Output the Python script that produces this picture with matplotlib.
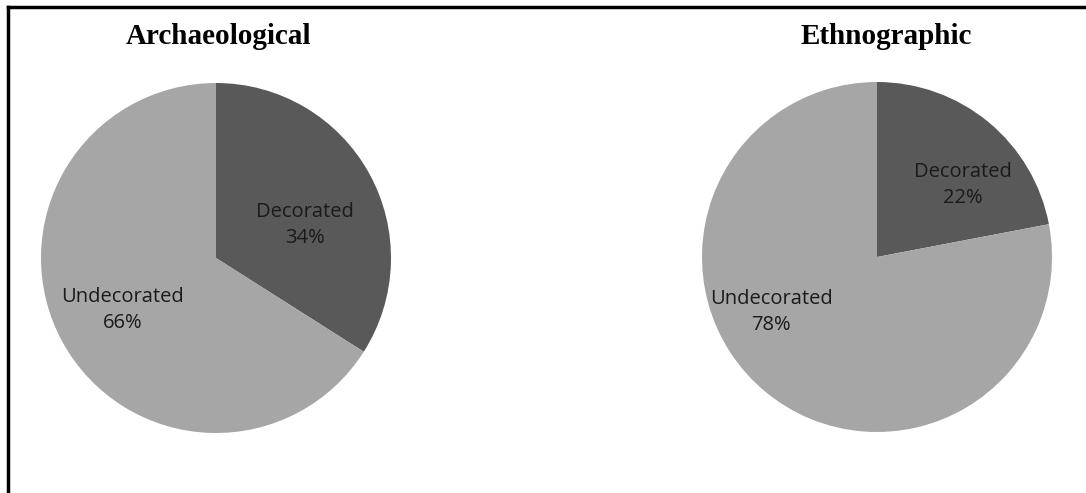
import matplotlib
matplotlib.use("Agg")
import numpy as np
import matplotlib.pyplot as plt
from matplotlib.lines import Line2D

# ============================================================
# DATA
# ============================================================

CATEGORIES = ["Decorated", "Undecorated"]
ARCH_VALUES = [34, 66]
ETHNO_VALUES = [22, 78]
TITLES = ["Archaeological", "Ethnographic"]

# ============================================================
# STYLE / LAYOUT
# ============================================================

COLORS = ["#595959", "#a6a6a6"]
W, H = 1086, 493
PIE_CENTERS = [(216, 258), (877, 257)]
PIE_RADIUS = 175
TITLE_X = [218, 886]
TITLE_Y = 37
# label positions (angle in deg, distance in radii) per pie
LABEL_POS = [
    [(20.4, 0.54), (209.0, 0.61)],
    [(40.2, 0.64), (207.3, 0.68)],
]


def draw_pie(fig, center, values, label_pos):
    cx, cy = center
    ax = fig.add_axes([
        (cx - PIE_RADIUS) / W,
        (H - cy - PIE_RADIUS) / H,
        2 * PIE_RADIUS / W,
        2 * PIE_RADIUS / H,
    ])
    ax.pie(values, colors=COLORS, startangle=90, counterclock=False,
           radius=1.0, wedgeprops=dict(linewidth=0))
    ax.set_xlim(-1, 1)
    ax.set_ylim(-1, 1)
    ax.set_aspect("equal")
    ax.axis("off")

    for cat, val, (ang, dist) in zip(CATEGORIES, values, label_pos):
        a = np.deg2rad(ang)
        ax.text(dist * np.cos(a), dist * np.sin(a), f"{cat}\n{val}%",
                ha="center", va="center", fontsize=14.5, family="Open Sans",
                color="#1a1a1a", linespacing=1.4)
    return ax


def main():
    fig = plt.figure(figsize=(W / 100, H / 100), dpi=100)

    for center, values, lp in zip(PIE_CENTERS, [ARCH_VALUES, ETHNO_VALUES], LABEL_POS):
        draw_pie(fig, center, values, lp)

    for title, tx in zip(TITLES, TITLE_X):
        fig.text(tx / W, 1 - TITLE_Y / H, title, ha="center", va="center",
                 fontsize=21, fontweight="bold", family="Liberation Serif")

    # frame lines (top and left only)
    fig.add_artist(Line2D([8 / W, 1], [1 - 7 / H, 1 - 7 / H],
                          transform=fig.transFigure, color="black", linewidth=2.5))
    fig.add_artist(Line2D([8 / W, 8 / W], [0, 1 - 7 / H],
                          transform=fig.transFigure, color="black", linewidth=2.5))

    fig.savefig("out.png", dpi=100)


if __name__ == "__main__":
    main()
